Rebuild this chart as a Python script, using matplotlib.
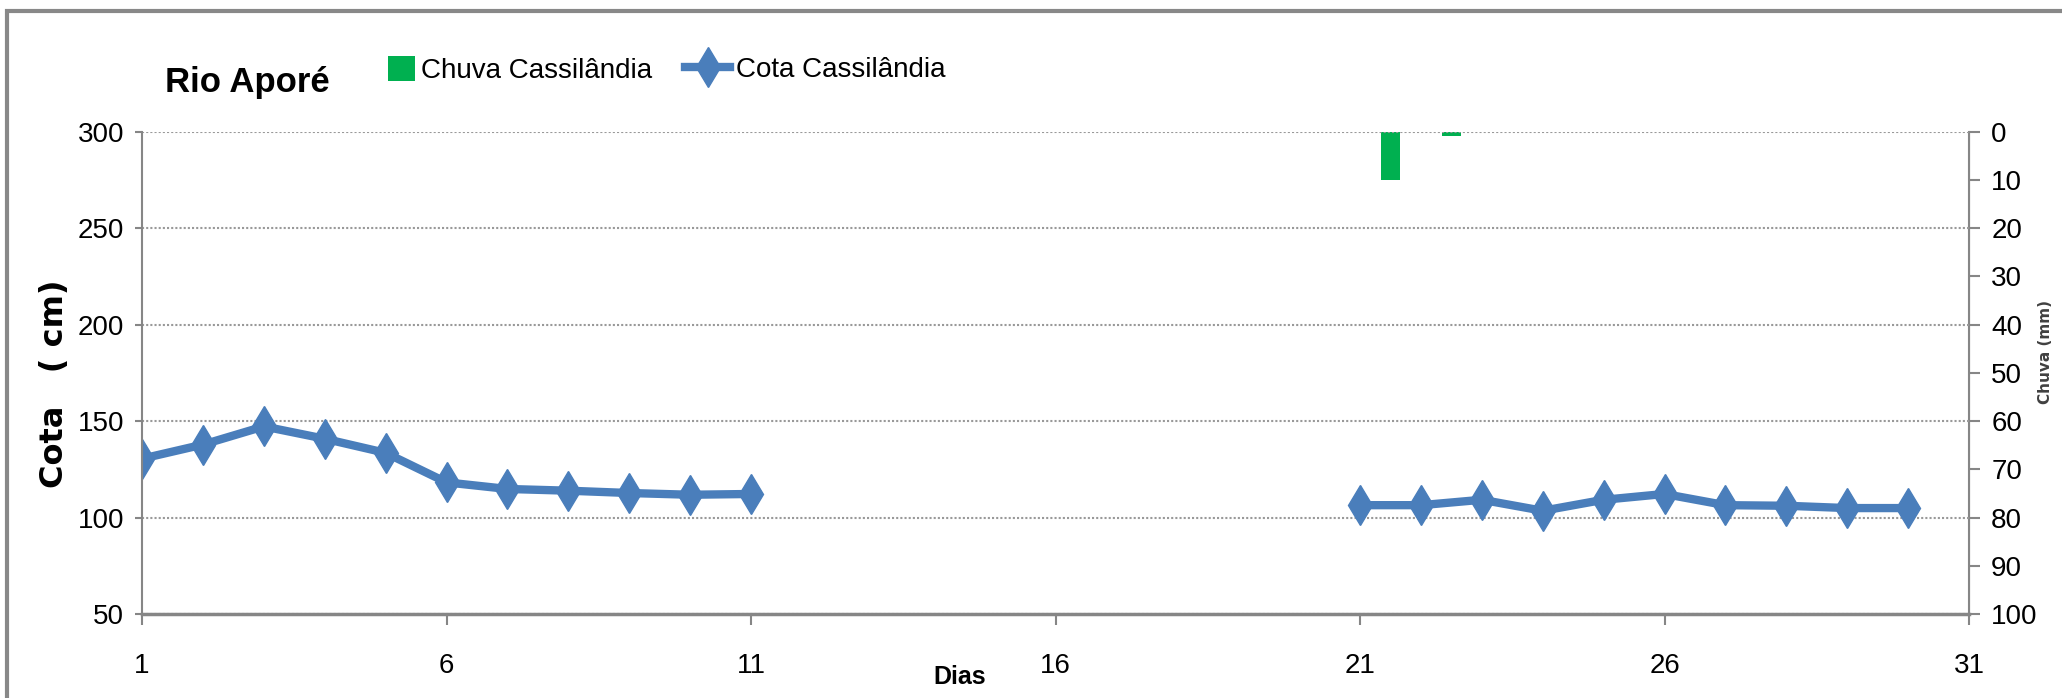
import numpy as np
import matplotlib
matplotlib.use('Agg')
import matplotlib.pyplot as plt
from matplotlib.patches import Rectangle

# dados
dias = list(range(1, 31))
cota = [130.5, 137.8, 147.2, 140.8, 133.5, 118.2, 114.8, 113.9, 112.7, 111.8, 112.2,
        np.nan, np.nan, np.nan, np.nan, np.nan, np.nan, np.nan, np.nan, np.nan,
        106.4, 106.4, 109.2, 103.5, 109.2, 112.2, 106.4, 106.1, 104.9, 104.9]
dias_chuva = [21, 22]
chuva = [10.0, 0.9]

x_ticks = [1, 6, 11, 16, 21, 26, 31]
cota_ticks = [50, 100, 150, 200, 250, 300]
chuva_ticks = list(range(0, 101, 10))

narrow = ['Liberation Sans Narrow', 'Liberation Sans', 'DejaVu Sans']
cinza = '#868686'
azul = '#4A7EBB'
verde = '#00B050'

fig = plt.figure(figsize=(20.62, 6.98), dpi=100)
ax = fig.add_axes([0.0689, 0.1203, 0.886, 0.6913])
ax2 = ax.twinx()
ax.set_zorder(ax2.get_zorder() + 1)
ax.patch.set_visible(False)

# chuva (eixo secundario invertido)
ax2.bar(np.array(dias_chuva) + 0.5, chuva, width=0.3, color=verde)
ax2.set_ylim(100, 0)
ax2.set_yticks(chuva_ticks)

# cota
linha, = ax.plot(dias, cota, color=azul, linewidth=6, marker='d', markersize=20,
                 markeredgecolor=azul)
ax.set_xlim(1, 31)
ax.set_ylim(50, 300)
ax.set_xticks(x_ticks)
ax.set_yticks(cota_ticks)
ax.grid(axis='y', color='#999999', linestyle=(0, (1, 1)), linewidth=1.5)
ax.set_axisbelow(True)

for a in (ax, ax2):
    for s in a.spines.values():
        s.set_color(cinza)
    a.spines['top'].set_visible(False)
ax.spines['bottom'].set_linewidth(2.5)
ax.spines['left'].set_linewidth(1.5)
ax2.spines['right'].set_linewidth(1.5)
ax2.spines['left'].set_visible(False)
ax2.spines['bottom'].set_visible(False)

ax.tick_params(axis='x', length=8, width=1.5, color=cinza, pad=20, labelsize=20)
ax.tick_params(axis='y', length=5, width=1.5, color=cinza, pad=8, labelsize=20)
ax2.tick_params(axis='y', length=8, width=1.5, color=cinza, pad=8, labelsize=20)
for lab in ax.get_xticklabels() + ax.get_yticklabels() + ax2.get_yticklabels():
    lab.set_family(narrow)

# textos
fig.text(0.080, 0.8825, 'Rio Aporé', fontsize=25, fontweight='bold', family=narrow, va='center')
fig.text(0.0265, 0.45, 'Cota   ( cm)', fontsize=23, fontweight='bold', rotation=90,
         ha='center', va='center', family='DejaVu Sans')
fig.text(0.9918, 0.4957, 'Chuva (mm)', fontsize=11, fontweight='bold', rotation=90,
         ha='center', va='center', color='#404040')
fig.text(0.4656, 0.030, 'Dias', fontsize=18, fontweight='bold', ha='center', va='center', family=narrow)

# legenda em duas partes (quadrado verde e linha com marcador)
caixa = Rectangle((0, 0), 1, 1, facecolor=verde, edgecolor='none')
fig.legend([caixa], ['Chuva Cassilândia'], loc='center left', bbox_to_anchor=(0.188, 0.90),
           frameon=False, prop={'family': narrow, 'size': 20}, handlelength=1.0,
           handleheight=1.0, handletextpad=0.2, borderpad=0, borderaxespad=0)
fig.legend([linha], ['Cota Cassilândia'], loc='center left', bbox_to_anchor=(0.332, 0.90),
           frameon=False, prop={'family': narrow, 'size': 20}, handlelength=1.65,
           handletextpad=0.2, borderpad=0, borderaxespad=0)

# borda da area do grafico
fig.patches.append(Rectangle((7 / 2062, -0.1), 1.2, 1 - 11 / 698 + 0.1, transform=fig.transFigure,
                             fill=False, edgecolor='#888888', linewidth=3))

fig.savefig('out.png', dpi=100)
